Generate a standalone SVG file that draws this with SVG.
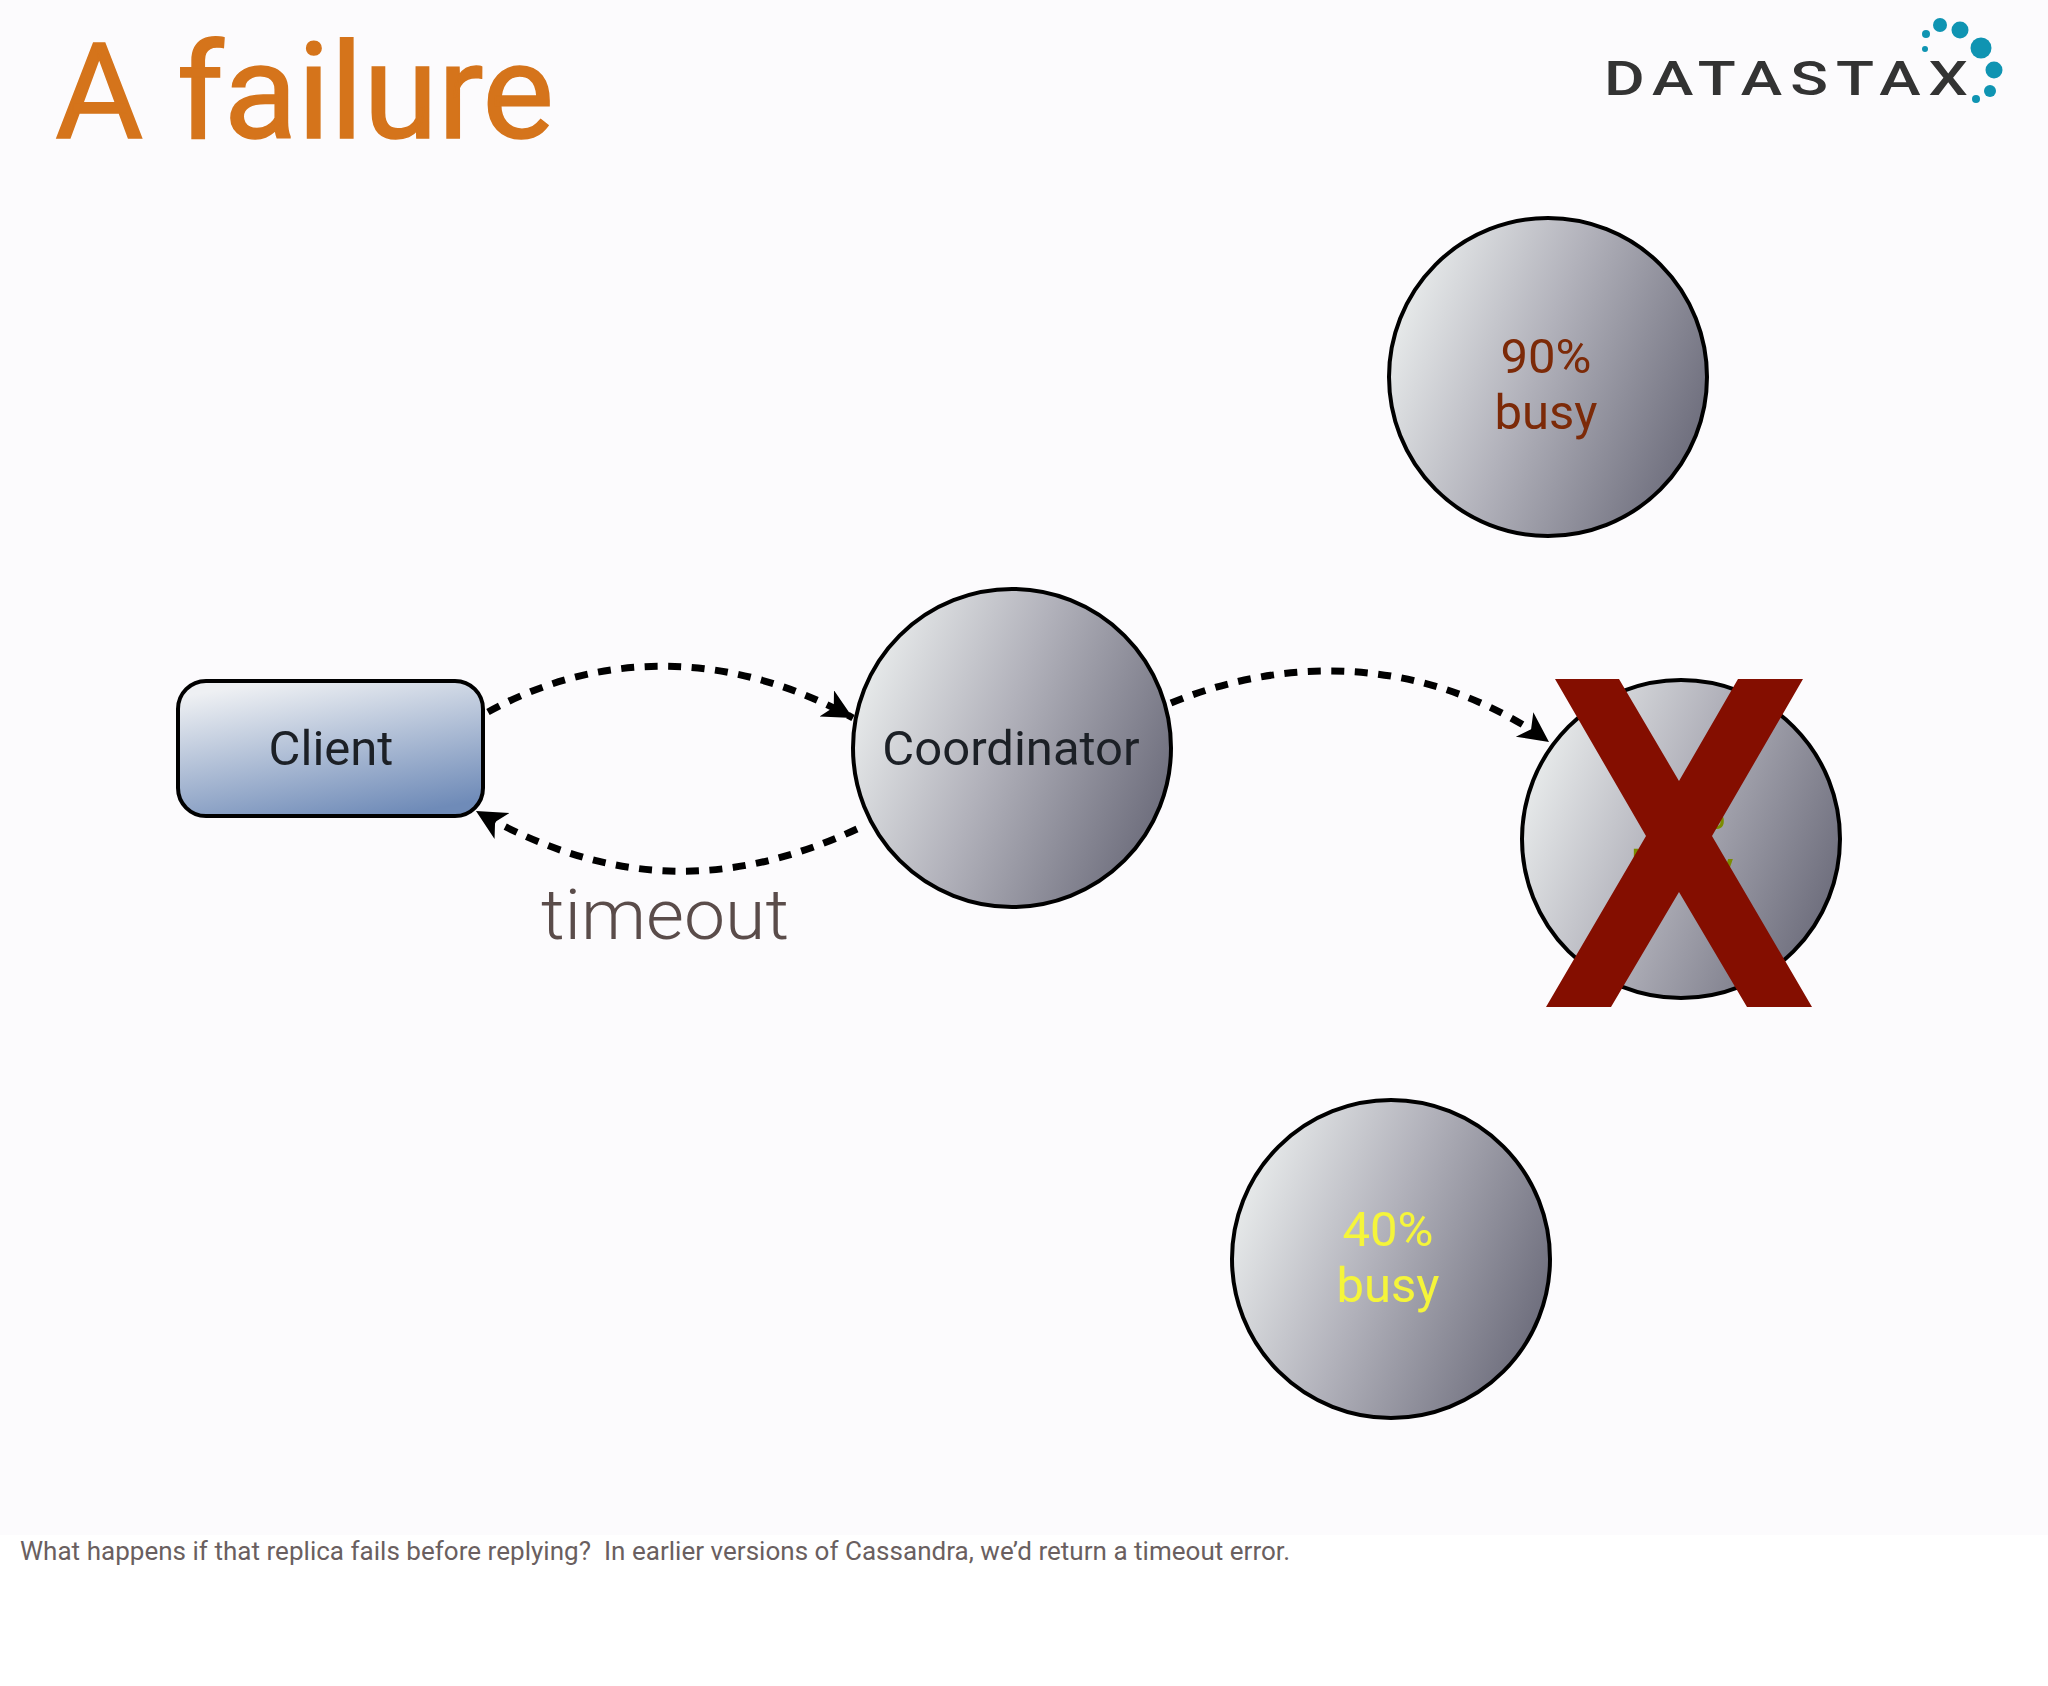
<svg xmlns="http://www.w3.org/2000/svg" width="2048" height="1686" viewBox="0 0 2048 1686">
<defs>
<linearGradient id="g" x1="0" y1="0.3" x2="1" y2="0.7"><stop offset="0" stop-color="#eaeded"/><stop offset="0.45" stop-color="#b2b2bb"/><stop offset="1" stop-color="#6b6b7a"/></linearGradient>
<linearGradient id="b" x1="0.3" y1="0" x2="0.7" y2="1"><stop offset="0" stop-color="#eef0f3"/><stop offset="1" stop-color="#6f8bb8"/></linearGradient>
<marker id="a" markerUnits="userSpaceOnUse" markerWidth="34" markerHeight="34" refX="30" refY="15" orient="auto"><path d="M0 0L30 15L0 30L8 15Z" fill="#000"/></marker>
</defs>
<style>
.n{fill:url(#g);stroke:#000;stroke-width:4}
.c{fill:none;stroke:#000;stroke-width:7;stroke-dasharray:13 10.5}
.t{font-family:Roboto,"Liberation Sans",sans-serif;font-size:49px;text-anchor:middle}
</style>
<rect width="2048" height="1686" fill="#fff"/>
<rect width="2048" height="1535" fill="#fcfbfd"/>
<text x="55" y="138" font-family="Roboto,sans-serif" font-size="134" fill="#d5741b" stroke="#d5741b" stroke-width="1.5" textLength="499" lengthAdjust="spacingAndGlyphs">A failure</text>
<g id="logo">
<text transform="translate(1604 95) scale(1.3 1)" x="0" y="0" font-family="Roboto,sans-serif" font-weight="500" font-size="48" fill="#333" textLength="280">DATASTAX</text>
<g fill="#0f94b2"><circle cx="1940" cy="25" r="7"/><circle cx="1960" cy="30" r="8.5"/><circle cx="1981" cy="48" r="10.5"/><circle cx="1994" cy="70" r="8.5"/><circle cx="1990" cy="91" r="6"/><circle cx="1976" cy="99" r="4"/><circle cx="1926" cy="34" r="4"/><circle cx="1925" cy="49" r="3"/></g>
</g>
<g id="connectors">
<path class="c" marker-end="url(#a)" d="M488 712C600 650 730 650 853 718"/>
<path class="c" marker-end="url(#a)" d="M857 829C730 888 610 888 476 811"/>
<path class="c" marker-end="url(#a)" d="M1171 703C1290 654 1430 657 1549 742"/>
</g>
<g id="client"><rect x="178" y="681" width="305" height="135" rx="28" fill="url(#b)" stroke="#000" stroke-width="4"/><text class="t" x="331" y="765" fill="#1c2026">Client</text></g>
<g id="coordinator"><circle class="n" cx="1012" cy="748" r="159"/><text class="t" x="1011" y="765" fill="#1c2026">Coordinator</text></g>
<g id="node90"><circle class="n" cx="1548" cy="377" r="159"/><text class="t" x="1546" y="373" fill="#7c2a08">90%</text><text class="t" x="1546" y="429" fill="#7c2a08">busy</text></g>
<g id="node40"><circle class="n" cx="1391" cy="1259" r="159"/><text class="t" x="1388" y="1246" fill="#f5f53a">40%</text><text class="t" x="1388" y="1302" fill="#f5f53a">busy</text></g>
<g id="failed"><circle class="n" cx="1681" cy="839" r="159"/><text class="t" x="1726" y="829" style="text-anchor:end" fill="#7c8c00">%</text><text class="t" x="1682" y="885" fill="#7c8c00">busy</text>
<polygon points="1555,679 1619,679 1679,781 1738,679 1803,679 1712,836 1812,1007 1747,1007 1679,892 1611,1007 1546,1007 1646,836" fill="#840e00"/></g>
<text x="541" y="939" font-family="Roboto,sans-serif" font-weight="300" font-size="71" fill="#5a4c4a" textLength="248" lengthAdjust="spacingAndGlyphs">timeout</text>
<text x="20" y="1560" xml:space="preserve" style="white-space:pre" font-family="'Liberation Sans Narrow',Roboto,sans-serif" font-size="26" fill="#6a5f60" textLength="1270">What happens if that replica fails before replying?  In earlier versions of Cassandra, we’d return a timeout error.</text>
</svg>
